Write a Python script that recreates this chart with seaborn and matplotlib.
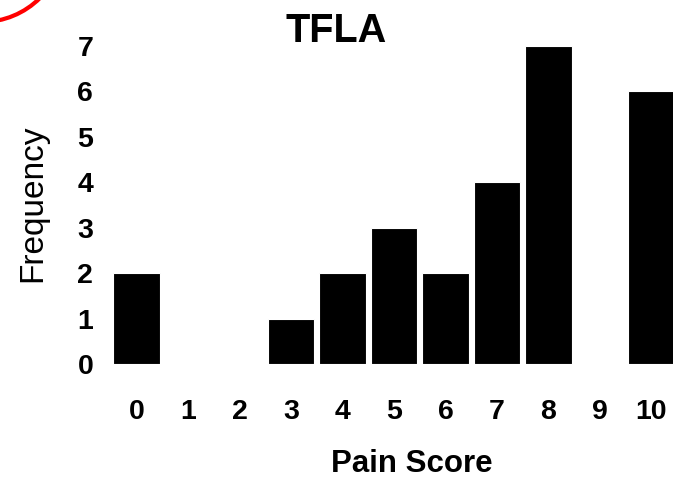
import numpy as np
import pandas as pd
import matplotlib
matplotlib.use('Agg')
import matplotlib.pyplot as plt
import matplotlib.patches as mpatches
import seaborn as sns

# data
scores = ['0', '1', '2', '3', '4', '5', '6', '7', '8', '9', '10']
freqs = [2, 0, 0, 1, 2, 3, 2, 4, 7, 0, 6]
y_ticks = [0, 1, 2, 3, 4, 5, 6, 7]

df = pd.DataFrame({'score': scores, 'freq': freqs})

sns.set_style('white')
plt.rcParams['font.family'] = ['Liberation Sans', 'DejaVu Sans']
plt.rcParams['text.color'] = 'black'
plt.rcParams['axes.labelcolor'] = 'black'
plt.rcParams['xtick.color'] = 'black'
plt.rcParams['ytick.color'] = 'black'

fig = plt.figure(figsize=(6.73, 4.79), dpi=100)
ax = fig.add_axes([0.157, 0.240, 0.843, 0.693])

sns.barplot(data=df, x='score', y='freq', order=scores, color='black',
            width=0.9, saturation=1, edgecolor='white', linewidth=0.8, ax=ax)

# right edge cuts the last bar, as in the reference
ax.set_xlim(-0.6, 10.42)
ax.set_ylim(0, 7.3)
ax.set_yticks(y_ticks)
sns.despine(ax=ax, left=True, bottom=True)

ax.tick_params(axis='x', length=0, pad=25, labelsize=20.5)
ax.tick_params(axis='y', length=0, pad=9, labelsize=20.5)
for label in ax.get_xticklabels() + ax.get_yticklabels():
    label.set_fontweight('bold')

# axis labels, placed by pixel position in the reference
ax.set_xlabel('Pain Score', fontsize=22.5, fontweight='bold', va='center')
ax.xaxis.set_label_coords((412 - 105.7) / 567.3, (479 - 464 - 115) / 332.0)
ax.set_ylabel('Frequency', fontsize=24, va='center')
ax.yaxis.set_label_coords(-(105.7 - 33) / 567.3, (479 - 203 - 115) / 332.0)

fig.text(0.5, 0.935, 'TFLA', ha='center', va='center', fontsize=28.5, fontweight='bold')

# red circle mark in the top-left corner
ring = mpatches.Ellipse((-18 / 673, 1 + 60 / 479), 2 * 82 / 673, 2 * 82 / 479,
                        transform=fig.transFigure, fill=False, edgecolor='#ff0000',
                        linewidth=3)
fig.add_artist(ring)

fig.savefig('out.png', dpi=100)
